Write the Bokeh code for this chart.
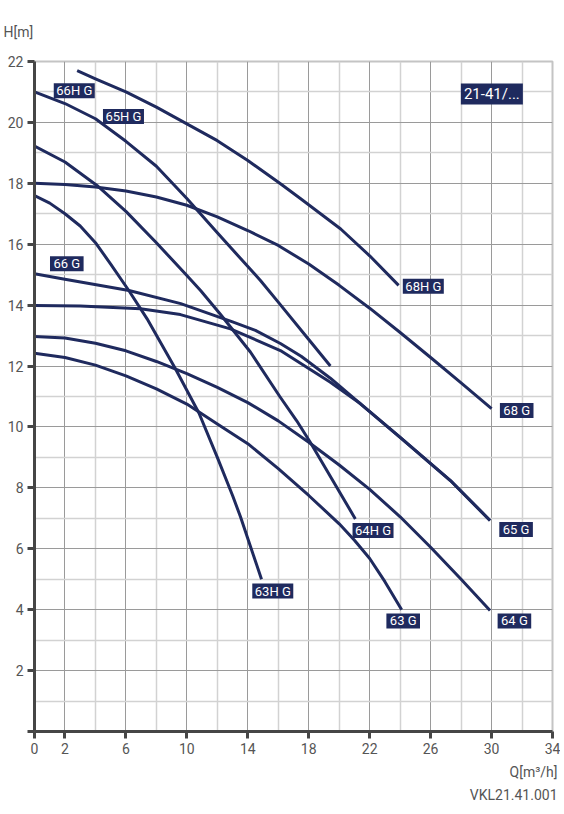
from bokeh.plotting import figure
from bokeh.models import ColumnDataSource, FixedTicker, Title
from bokeh.core.properties import value
from bokeh.embed import file_html
from bokeh.resources import INLINE

# pump curves, Q [m3/h] -> H [m]
q_68h = [2.8, 4, 6, 8, 10, 12, 14, 16.1, 17.45, 20.1, 22.0, 23.9]
h_68h = [21.7, 21.43, 21.0, 20.5, 19.95, 19.4, 18.75, 18.0, 17.5, 16.5, 15.62, 14.65]

q_68 = [0, 2, 4, 6, 8, 10, 12, 14, 16, 18, 20, 22, 24, 26, 28, 30]
h_68 = [18.0, 17.96, 17.88, 17.75, 17.55, 17.28, 16.9, 16.45, 15.96, 15.35, 14.65, 13.9, 13.1, 12.28, 11.45, 10.6]

q_66h = [0, 2, 4, 6, 8, 10, 12, 12.86, 14.83, 16, 18, 19.42]
h_66h = [21.0, 20.62, 20.12, 19.38, 18.56, 17.5, 16.38, 15.9, 14.81, 14.1, 12.87, 12.0]

q_64h = [0, 2, 4.1, 6, 8, 10, 10.9, 12.2, 14.17, 16.1, 17.2, 18.1, 21.06]
h_64h = [19.22, 18.7, 17.93, 17.08, 16.05, 14.97, 14.48, 13.7, 12.46, 11.0, 10.21, 9.5, 6.98]

q_63h = [0, 1, 2, 3, 4, 5, 6.19, 7.39, 9.25, 10.8, 12.0, 13.0, 13.52, 14.06, 14.9]
h_63h = [17.6, 17.35, 17.0, 16.6, 16.05, 15.35, 14.48, 13.55, 11.91, 10.45, 9.0, 7.75, 7.05, 6.25, 5.0]

q_66 = [0, 1.9, 6.2, 9.6, 13.0, 14.5, 16.14, 17.5, 19.42, 21.4, 24.0, 27.3, 29.9]
h_66 = [15.03, 14.86, 14.48, 14.05, 13.45, 13.17, 12.74, 12.32, 11.6, 10.76, 9.66, 8.24, 6.93]

q_65 = [0, 3.0, 6.96, 9.58, 12.86, 16.14, 19.42, 21.4, 24.0, 27.3, 29.9]
h_65 = [13.99, 13.97, 13.88, 13.69, 13.22, 12.51, 11.47, 10.76, 9.66, 8.24, 6.93]

q_64 = [0, 2, 4, 6, 8, 10, 12, 14, 16, 18, 20, 22, 24, 26, 28, 29.9]
h_64 = [12.97, 12.92, 12.75, 12.5, 12.15, 11.75, 11.3, 10.8, 10.2, 9.5, 8.75, 7.95, 7.05, 6.05, 5.0, 3.97]

q_63 = [0, 2, 4, 6, 8, 10, 12, 14, 16, 18, 20, 21, 22, 23, 24.1]
h_63 = [12.42, 12.28, 12.03, 11.68, 11.25, 10.75, 10.1, 9.45, 8.63, 7.75, 6.82, 6.28, 5.68, 4.92, 4.0]

curves = [(q_68h, h_68h), (q_68, h_68), (q_66h, h_66h), (q_64h, h_64h), (q_63h, h_63h),
          (q_66, h_66), (q_65, h_65), (q_64, h_64), (q_63, h_63)]

# curve tags
tag_text = ["66H G", "65H G", "66 G", "68H G", "68 G", "64H G", "63H G", "65 G", "64 G", "63 G"]
tag_q = [2.61, 5.84, 2.12, 25.52, 31.65, 22.22, 15.64, 31.61, 31.5, 24.2]
tag_h = [21.04, 20.19, 15.36, 14.62, 10.54, 6.6, 4.61, 6.63, 3.63, 3.63]

x_ticks = [0, 2, 6, 10, 14, 18, 22, 26, 30, 34]
x_minor = [4, 8, 12, 16, 20, 24, 28, 32]
y_ticks = [0, 2, 4, 6, 8, 10, 12, 14, 16, 18, 20, 22]
y_minor = [1, 3, 5, 7, 9, 11, 13, 15, 17, 19, 21]

NAVY = "#1f2a5e"
FONT = "Roboto"
GREY = "#555555"

p = figure(width=560, height=810, x_range=(0, 34), y_range=(0, 22),
           toolbar_location=None, tools="", output_backend="svg",
           min_border_left=34, min_border_right=8, min_border_top=61, min_border_bottom=79)
p.background_fill_color = "white"
p.outline_line_color = "#c4c4c4"
p.outline_line_width = 2

p.title.text = "H[m]"
p.title.align = "left"
p.title.offset = -31
p.title.standoff = 43
p.title.text_font = FONT
p.title.text_font_size = "14px"
p.title.text_font_style = "normal"
p.title.text_color = GREY

for ax, major, minor in ((p.xaxis, x_ticks, x_minor), (p.yaxis, y_ticks, y_minor)):
    ax.ticker = FixedTicker(ticks=major, minor_ticks=minor)
    ax.axis_line_color = "#464646"
    ax.axis_line_width = 3
    ax.major_tick_line_color = "#464646"
    ax.major_tick_line_width = 3
    ax.major_tick_out = 7
    ax.major_tick_in = 0
    ax.minor_tick_line_color = None
    ax.major_label_text_font = FONT
    ax.major_label_text_font_size = "14px"
    ax.major_label_text_color = GREY
    ax.major_label_standoff = 4
p.yaxis.major_label_overrides = {0: ""}

p.grid.grid_line_color = "#9a9a9a"
p.grid.grid_line_width = 1
p.grid.minor_grid_line_color = "#d2d2d2"
p.grid.minor_grid_line_width = 1.5

for qs, hs in curves:
    p.line(qs, hs, line_color=NAVY, line_width=3, line_join="round")

tags = ColumnDataSource(data=dict(q=tag_q, h=tag_h, text=tag_text,
                                  w=[4 + 7.4 * len(t) for t in tag_text]))
p.rect(x="q", y="h", width="w", height=15, width_units="screen", height_units="screen",
       fill_color=NAVY, line_color=None, source=tags)
p.text(x="q", y="h", text="text", text_align="center", text_baseline="middle",
       text_color="white", text_font=value(FONT), text_font_size="13px", source=tags)

p.rect(x=[30.02], y=[20.93], width=62, height=21, width_units="screen", height_units="screen",
       fill_color=NAVY, line_color=None)
p.text(x=[30.02], y=[20.93], text=["21-41/..."], text_align="center", text_baseline="middle",
       text_color="white", text_font=value(FONT), text_font_size="15px")

for txt, gap in (("Q[m³/h]", 10), ("VKL21.41.001", 1)):
    p.add_layout(Title(text=txt, align="right", offset=-5, text_font=FONT, text_font_size="14px",
                       text_font_style="normal", text_color=GREY, standoff=gap), "below")

open("out.html", "w").write(file_html(p, INLINE))
